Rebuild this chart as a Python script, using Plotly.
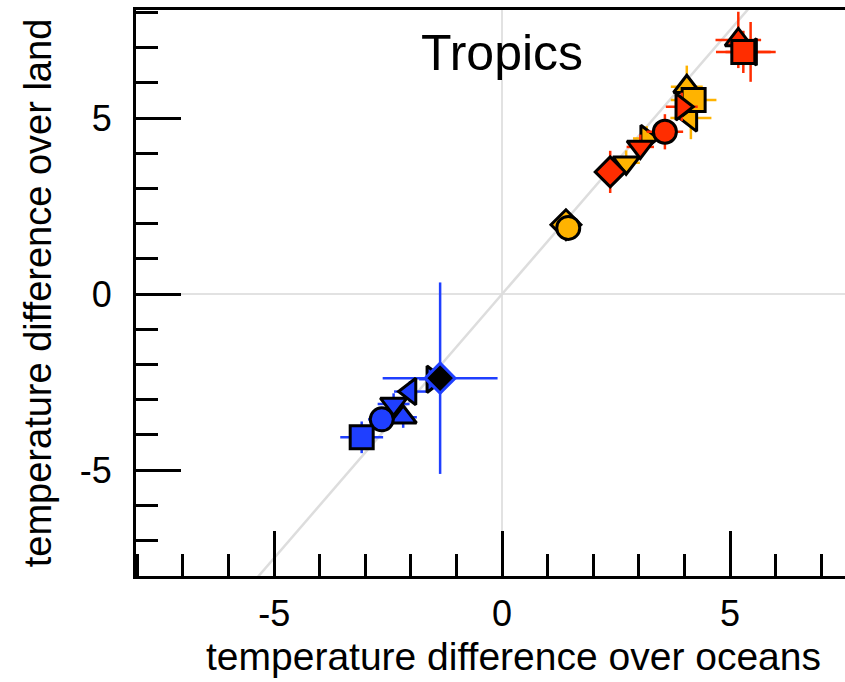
import plotly.graph_objects as go

# ---- data ----
# blue scenario
blue_symbols = ["triangle-up", "square", "circle", "triangle-down", "triangle-left", "triangle-right", "diamond"]
blue_ocean = [-2.17, -3.08, -2.64, -2.38, -2.02, -1.52, -1.36]
blue_land = [-3.50, -4.07, -3.56, -3.12, -2.77, -2.42, -2.39]
blue_ocean_err = [0.30, 0.47, 0.30, 0.35, 0.35, 0.30, 1.26]
blue_land_err = [0.30, 0.45, 0.35, 0.30, 0.30, 0.25, 2.72]

# orange scenario
orange_symbols = ["diamond", "circle", "triangle-down", "triangle-right", "triangle-left", "triangle-up", "square"]
orange_ocean = [1.40, 1.45, 2.72, 3.17, 4.14, 4.05, 4.20]
orange_land = [1.97, 1.88, 3.73, 4.42, 5.00, 5.89, 5.51]
orange_ocean_err = [0.15, 0.15, 0.30, 0.30, 0.45, 0.35, 0.50]
orange_land_err = [0.15, 0.15, 0.35, 0.35, 0.60, 0.60, 0.45]

# red scenario
red_symbols = ["diamond", "triangle-down", "circle", "triangle-right", "triangle-up", "triangle-left", "square"]
red_ocean = [2.37, 3.03, 3.57, 3.94, 5.18, 5.45, 5.29]
red_land = [3.47, 4.18, 4.61, 5.32, 7.22, 6.88, 6.88]
red_ocean_err = [0.25, 0.30, 0.40, 0.35, 0.50, 0.55, 0.60]
red_land_err = [0.60, 0.35, 0.50, 0.40, 0.80, 0.85, 0.60]

ratio_line_slope = 1.5
x_range = [-8.03, 7.52]
y_range = [-8.01, 8.07]
x_tick_vals = [-5, 0, 5]
x_tick_text = ["-5", "0", "5"]
y_tick_vals = [-5, 0, 5]
y_tick_text = ["-5", "0", "5"]
title_text = "Tropics"
x_title = "temperature difference over oceans"
y_title = "temperature difference over land"

BLUE = "#1f3fff"
ORANGE = "#ffb300"
RED = "#ff2d00"
FONT = "Liberation Sans, Arial, Helvetica, sans-serif"

fig = go.Figure()

# 1.5 ratio reference line spanning the visible range
lx = [y_range[0] / ratio_line_slope - 1, y_range[1] / ratio_line_slope + 1]
fig.add_trace(go.Scatter(x=lx, y=[v * ratio_line_slope for v in lx], mode="lines",
                         line=dict(color="#dddddd", width=2.5), hoverinfo="skip", showlegend=False))

series = [
    ("orange", ORANGE, orange_symbols, orange_ocean, orange_land, orange_ocean_err, orange_land_err),
    ("red", RED, red_symbols, red_ocean, red_land, red_ocean_err, red_land_err),
    ("blue", BLUE, blue_symbols, blue_ocean, blue_land, blue_ocean_err, blue_land_err),
]

for name, col, syms, xs, ys, xe, ye in series:
    fills = []
    edges = []
    for s in syms:
        if name == "blue" and s == "diamond":
            fills.append("black")
            edges.append(col)
        else:
            fills.append(col)
            edges.append("black")
    fig.add_trace(go.Scatter(
        x=xs, y=ys, mode="markers", name=name, showlegend=False,
        marker=dict(symbol=syms, size=23, color=fills, line=dict(color=edges, width=3)),
        error_x=dict(type="data", array=xe, visible=True, color=col, thickness=2.5, width=0),
        error_y=dict(type="data", array=ye, visible=True, color=col, thickness=2.5, width=0),
    ))

axis_common = dict(
    showgrid=False, zeroline=True, zerolinecolor="#e2e2e2", zerolinewidth=1.5,
    showline=True, linecolor="black", linewidth=3,
    ticks="inside", ticklen=45, tickwidth=2.5, tickcolor="black",
    tickfont=dict(family=FONT, size=36, color="black"),
    minor=dict(dtick=1, ticks="inside", ticklen=22, tickwidth=2.5, tickcolor="black"),
    automargin=False,
)

fig.update_layout(
    width=845, height=682,
    margin=dict(l=136, r=0, t=10, b=106),
    plot_bgcolor="white", paper_bgcolor="white",
    font=dict(family=FONT, color="black"),
    xaxis=dict(range=x_range, tickvals=x_tick_vals, ticktext=x_tick_text, mirror=True,
               ticklabelstandoff=4, **axis_common),
    yaxis=dict(range=y_range, tickvals=y_tick_vals, ticktext=y_tick_text, mirror=False,
               ticklabelstandoff=14,
               title=dict(text=y_title, font=dict(family=FONT, size=38), standoff=17),
               **axis_common),
    annotations=[
        dict(text=title_text, x=0, y=6.85, xref="x", yref="y",
             showarrow=False, font=dict(family=FONT, size=50, color="black"),
             xanchor="center", yanchor="middle"),
        dict(text=x_title, x=0.533, y=-0.143, xref="paper", yref="paper",
             showarrow=False, font=dict(family=FONT, size=39, color="black"),
             xanchor="center", yanchor="middle"),
    ],
)

fig.write_html("out.html")
